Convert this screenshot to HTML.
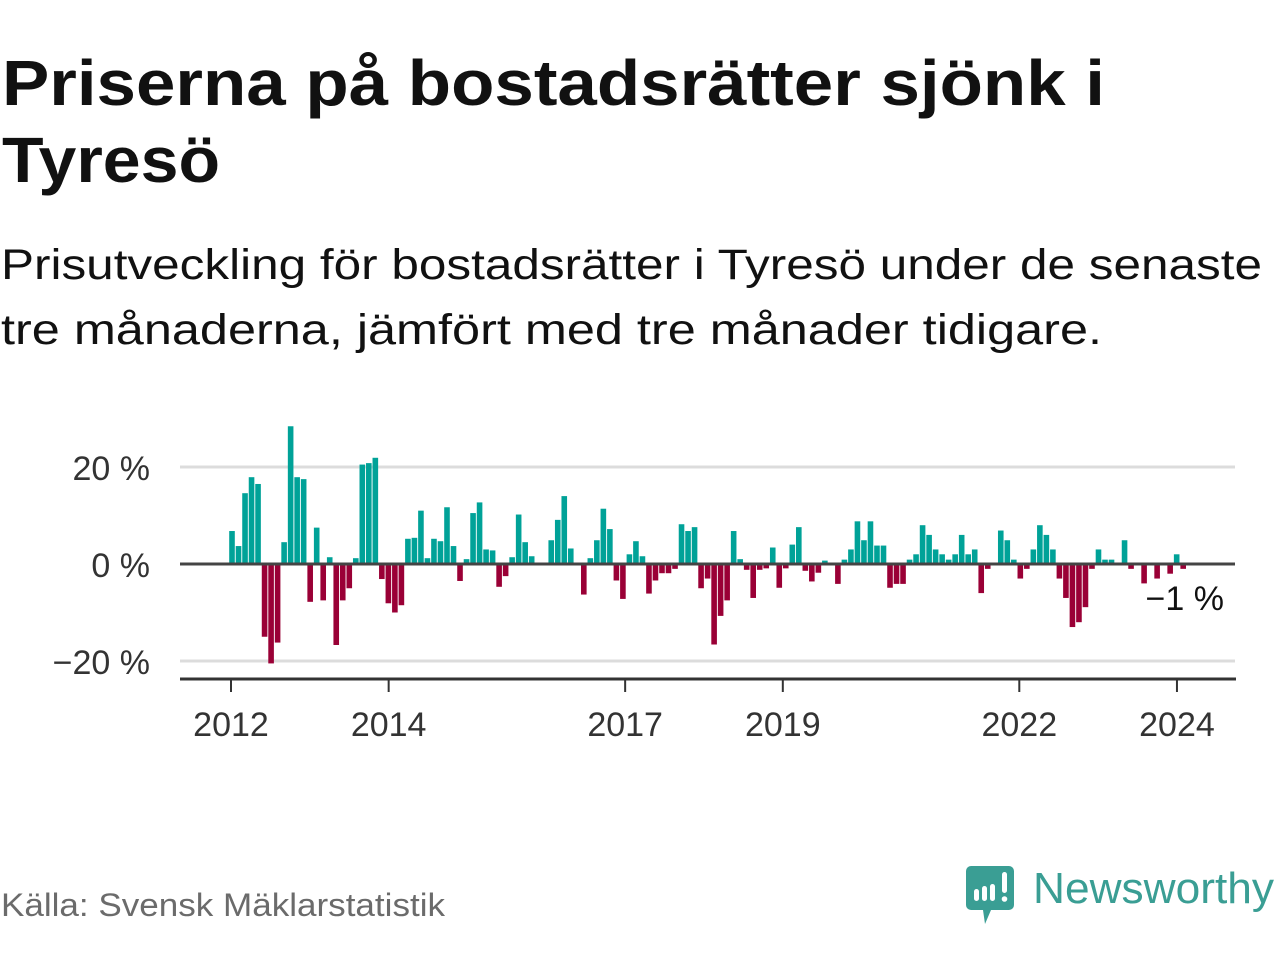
<!DOCTYPE html>
<html><head><meta charset="utf-8"><style>
html,body{margin:0;padding:0;background:#fff;width:1280px;height:960px;overflow:hidden}
svg{display:block}
</style></head><body>
<svg id="chart" width="1280" height="960" viewBox="0 0 1280 960" xmlns="http://www.w3.org/2000/svg" font-family="'Liberation Sans', 'DejaVu Sans', sans-serif">
  <text x="2" y="105" font-size="64" font-weight="bold" fill="#111" textLength="1103" lengthAdjust="spacingAndGlyphs">Priserna på bostadsrätter sjönk i</text>
  <text x="2" y="182" font-size="64" font-weight="bold" fill="#111" textLength="218" lengthAdjust="spacingAndGlyphs">Tyresö</text>
  <text x="1" y="279" font-size="43" fill="#111" textLength="1261" lengthAdjust="spacingAndGlyphs">Prisutveckling för bostadsrätter i Tyresö under de senaste</text>
  <text x="1" y="344" font-size="43" fill="#111" textLength="1101" lengthAdjust="spacingAndGlyphs">tre månaderna, jämfört med tre månader tidigare.</text>
  <g id="plot"></g>
  <text x="1" y="916" font-size="32" fill="#6b6b6b" textLength="444" lengthAdjust="spacingAndGlyphs">Källa: Svensk Mäklarstatistik</text>
  <g>
    <path d="M971 866 h38 a5 5 0 0 1 5 5 v34 a5 5 0 0 1 -5 5 h-18 l-6 14 l-2 -14 h-12 a5 5 0 0 1 -5 -5 v-34 a5 5 0 0 1 5 -5z" fill="#3a9e94"/>
    <rect x="974" y="889" width="5" height="12" rx="2.5" fill="#fff"/>
    <rect x="982" y="886" width="5" height="15" rx="2.5" fill="#fff"/>
    <rect x="990" y="884" width="5" height="17" rx="2.5" fill="#fff"/>
    <rect x="1002" y="872" width="5" height="21" rx="2.5" fill="#fff"/>
    <circle cx="1004.5" cy="899" r="2.8" fill="#fff"/>
    <text x="1033" y="903" font-size="44" fill="#3a9e94" textLength="241" lengthAdjust="spacingAndGlyphs">Newsworthy</text>
  </g>
</svg>
<script>
const values = [6.8,3.7,14.6,17.9,16.5,-15,-20.5,-16.2,4.5,28.4,17.9,17.5,-7.8,7.5,-7.5,1.4,-16.7,-7.5,-5,1.2,20.5,20.8,21.9,-3.1,
-8.1,-10,-8.5,5.2,5.4,11,1.2,5.2,4.7,11.7,3.7,-3.5,1,10.5,12.7,3,
2.8,-4.7,-2.5,1.4,10.2,4.5,1.6,0,0.3,4.9,9.1,14,3.2,0,-6.3,1.2,4.9,11.4,7.2,-3.4,
-7.2,2,4.7,1.6,-6.1,-3.4,-1.9,-1.9,-1,8.2,6.8,7.6,-5,-3,-16.6,-10.7,-7.5,6.8,1,-1.2,
-7,-1.2,-0.9,3.4,-4.9,-0.9,4,7.6,-1.4,-3.6,-1.8,0.7,0,-4.1,0.9,3,8.8,4.9,8.8,3.8,
3.8,-4.9,-4.1,-4.1,0.9,2,8,6,3,2,0.9,2,6,2,3,-6,-1,0,6.9,4.9,
0.9,-3,-1,3,8,6,3,-3,-7,-13,-12,-8.9,-1,3,0.9,0.9,0,4.9,-1,0,
-4,0,-3,0,-2,2,-1];
const yTicks = [20,0,-20];
const yTickLabels = ["20 %","0 %","\u221220 %"];
const xYears = [2012,2014,2017,2019,2022,2024];
const lastLabel = "\u22121 %";

const NS="http://www.w3.org/2000/svg";
const g=document.getElementById('plot');
const y=v=>564-v*4.85;
const xBar=i=>232+i*6.515;
const xYear=yr=>231+(yr-2012)*78.83;
function el(tag,attrs){const e=document.createElementNS(NS,tag);for(const k in attrs)e.setAttribute(k,attrs[k]);g.appendChild(e);return e;}

yTicks.forEach((t,i)=>{
  if(t!==0){const l=el('line',{x1:180,x2:1235,y1:y(t),y2:y(t),stroke:'#dcdcdc','stroke-width':3});
  
  }
  const tx=el('text',{x:150,y:y(t)+13,'font-size':34,fill:'#333','text-anchor':'end'});
  tx.textContent=yTickLabels[i];
  
  
});
values.forEach((v,i)=>{
  if(v===0)return;
  const top=v>0?y(v):y(0), h=Math.abs(y(v)-y(0));
  const r=el('rect',{x:xBar(i)-2.8,y:top,width:5.6,height:h,fill:v>0?'#00a298':'#9a0036'});
  
  
});
const zl=el('line',{x1:180,x2:1235,y1:y(0),y2:y(0),stroke:'#444','stroke-width':3});


const ax=el('line',{x1:180,x2:1236,y1:679,y2:679,stroke:'#333','stroke-width':3});


xYears.forEach(yr=>{
  const t=el('line',{x1:xYear(yr),x2:xYear(yr),y1:679,y2:692,stroke:'#333','stroke-width':2});
  
  
  const tx=el('text',{x:xYear(yr),y:736,'font-size':34,fill:'#333','text-anchor':'middle'});
  tx.textContent=yr;
  
  
});
const ll=el('text',{x:1224,y:610,'font-size':34,fill:'#111','text-anchor':'end'});
ll.textContent=lastLabel;


</script>
</body></html>
